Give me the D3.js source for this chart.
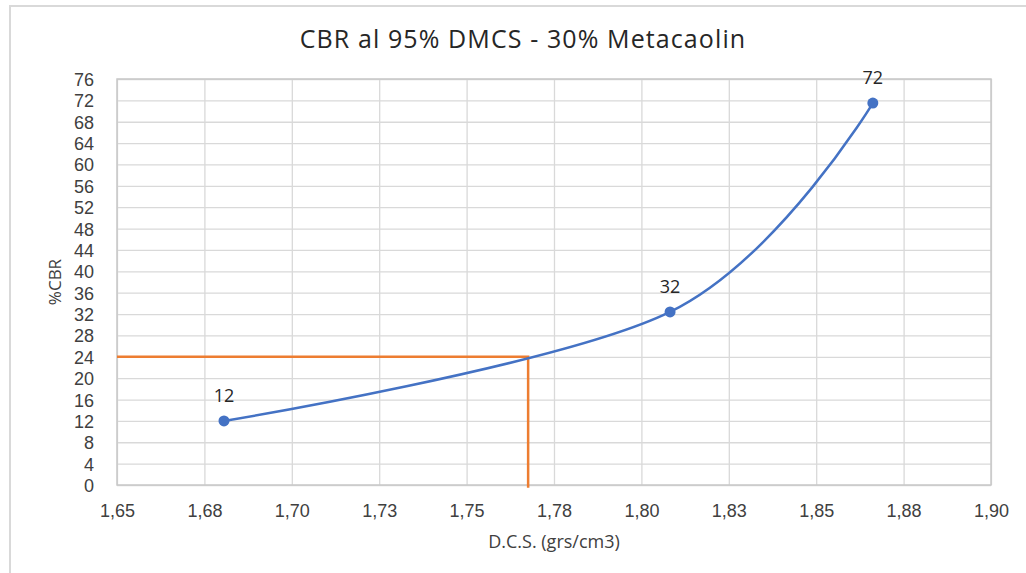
<!DOCTYPE html>
<html>
<head>
<meta charset="utf-8">
<script src="https://cdn.jsdelivr.net/npm/d3@7"></script>
<style>
  html, body { margin: 0; padding: 0; background: #fff; }
  svg { display: block; font-family: "Open Sans", "Noto Sans", sans-serif; }
</style>
</head>
<body>
<svg id="chart" width="1026" height="573"></svg>
<script>
const title = "CBR al 95% DMCS - 30% Metacaolin";
const xTitle = "D.C.S. (grs/cm3)";
const yTitle = "%CBR";

// series
const dcs = [1.6806, 1.8082, 1.8662];
const cbr = [12.0, 32.4, 71.5];
const pointLabels = ["12", "32", "72"];

// reference (orange) lines: CBR 24 -> D.C.S.
const refX = [1.65, 1.7676, 1.7676];
const refY = [24, 24, -0.5];

// axes
const xTicks = [1.65, 1.675, 1.70, 1.725, 1.75, 1.775, 1.80, 1.825, 1.85, 1.875, 1.90];
const xTickLabels = ["1,65", "1,68", "1,70", "1,73", "1,75", "1,78", "1,80", "1,83", "1,85", "1,88", "1,90"];
const yTicks = [0, 4, 8, 12, 16, 20, 24, 28, 32, 36, 40, 44, 48, 52, 56, 60, 64, 68, 72, 76];

const svg = d3.select("#chart");
const W = 1026, H = 573;
const plot = { left: 117, right: 991, top: 79, bottom: 485 };
const tickFont = "'Liberation Sans', Arial, sans-serif";

// outer chart border
svg.append("rect")
  .attr("x", 10).attr("y", 6).attr("width", W + 20).attr("height", H + 20)
  .attr("fill", "#fff").attr("stroke", "#d9d9d9").attr("stroke-width", 2);

const x = d3.scaleLinear().domain([1.65, 1.90]).range([plot.left, plot.right]);
const y = d3.scaleLinear().domain([0, 76]).range([plot.bottom, plot.top]);

// grid
const gx = svg.append("g")
  .attr("transform", `translate(0,${plot.bottom})`)
  .call(d3.axisBottom(x).tickValues(xTicks).tickSize(-(plot.bottom - plot.top))
    .tickFormat((d, i) => xTickLabels[i]));
gx.select(".domain").remove();
gx.selectAll(".tick line").attr("stroke", "#d9d9d9").attr("stroke-width", 1.3);
gx.selectAll(".tick text").attr("dy", 0).attr("y", 32)
  .attr("font-size", 18).attr("fill", "#404040")
  .attr("font-family", tickFont);

const gy = svg.append("g")
  .attr("transform", `translate(${plot.left},0)`)
  .call(d3.axisLeft(y).tickValues(yTicks).tickSize(-(plot.right - plot.left)).tickFormat(d3.format("d")));
gy.select(".domain").remove();
gy.selectAll(".tick line").attr("stroke", "#d9d9d9").attr("stroke-width", 1.3);
gy.selectAll(".tick text").attr("x", -23).attr("dy", "0.36em")
  .attr("font-size", 18).attr("fill", "#404040")
  .attr("font-family", tickFont);

// plot frame
svg.append("rect")
  .attr("x", plot.left).attr("y", plot.top)
  .attr("width", plot.right - plot.left).attr("height", plot.bottom - plot.top)
  .attr("fill", "none").attr("stroke", "#c8c8c8").attr("stroke-width", 1.5);

// orange reference lines
const refPts = refX.map((d, i) => [d, refY[i]]);
svg.append("path")
  .datum(refPts)
  .attr("fill", "none").attr("stroke", "#ED7D31").attr("stroke-width", 2.5)
  .attr("d", d3.line().x(d => x(d[0])).y(d => y(d[1])));

// smoothed series
const pts = dcs.map((d, i) => [d, cbr[i]]);
svg.append("path")
  .datum(pts)
  .attr("fill", "none").attr("stroke", "#4472C4").attr("stroke-width", 2.5)
  .attr("stroke-linecap", "round")
  .attr("d", d3.line().x(d => x(d[0])).y(d => y(d[1])).curve(d3.curveCardinal.tension(0)));

svg.selectAll("circle.pt").data(pts).enter().append("circle")
  .attr("class", "pt")
  .attr("cx", d => x(d[0])).attr("cy", d => y(d[1])).attr("r", 5.5)
  .attr("fill", "#4472C4");

svg.selectAll("text.pl").data(pts).enter().append("text")
  .attr("class", "pl")
  .attr("x", d => x(d[0])).attr("y", d => y(d[1]) - 19)
  .attr("text-anchor", "middle").attr("font-size", 18).attr("fill", "#262626")
  .text((d, i) => pointLabels[i]);

// titles
svg.append("text")
  .attr("x", 523).attr("y", 48).attr("text-anchor", "middle")
  .attr("font-size", 25).attr("letter-spacing", 1.1).attr("fill", "#262626")
  .text(title);

svg.append("text")
  .attr("x", 554).attr("y", 548).attr("text-anchor", "middle")
  .attr("font-size", 18).attr("fill", "#404040")
  .text(xTitle);

svg.append("text")
  .attr("transform", `translate(61,282) rotate(-90)`)
  .attr("text-anchor", "middle")
  .attr("font-size", 17).attr("fill", "#404040")
  .text(yTitle);
</script>
</body>
</html>
